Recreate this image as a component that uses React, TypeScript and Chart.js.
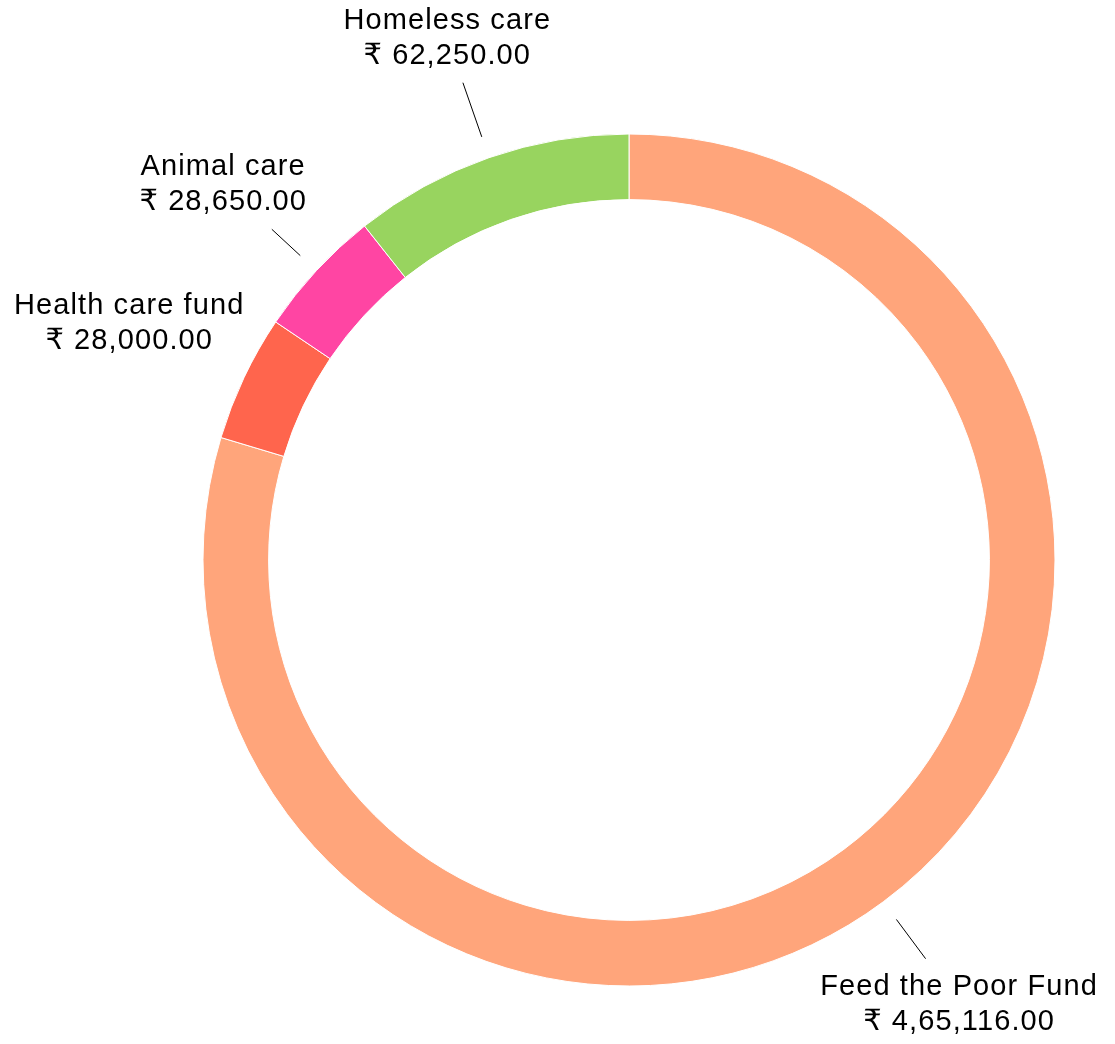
import React, { useEffect, useRef } from "react";
import { Chart, registerables } from "chart.js";

Chart.register(...registerables);

const categories = ["Feed the Poor Fund", "Health care fund", "Animal care", "Homeless care"];
const amounts = [465116, 28000, 28650, 62250];
const amountLabels = ["₹ 4,65,116.00", "₹ 28,000.00", "₹ 28,650.00", "₹ 62,250.00"];
const sliceColors = ["#FFA57B", "#FF654D", "#FF45A3", "#98D45F"];

const FONT = "29px 'Liberation Sans', Arial, Helvetica, 'DejaVu Sans', sans-serif";

const outsideLabels = {
  id: "outsideLabels",
  afterDraw(chart: any) {
    const ctx = chart.ctx;
    const meta = chart.getDatasetMeta(0);
    ctx.save();
    ctx.font = FONT;
    try { (ctx as any).letterSpacing = "1.1px"; } catch (e) {}
    ctx.textAlign = "center";
    ctx.textBaseline = "alphabetic";
    ctx.fillStyle = "#000";
    ctx.strokeStyle = "#000";
    ctx.lineWidth = 1;
    meta.data.forEach((arc: any, i: number) => {
      const p = arc.getProps(["x", "y", "startAngle", "endAngle", "outerRadius"], true);
      const mid = (p.startAngle + p.endAngle) / 2;
      const dx = Math.cos(mid);
      const dy = Math.sin(mid);
      const R = p.outerRadius;
      const bcx = p.x + (R + 127) * dx;
      const bcy = p.y + (R + 127) * dy;
      const l1 = categories[i];
      const l2 = amountLabels[i];
      const w = Math.max(ctx.measureText(l1).width, ctx.measureText(l2).width);
      const hw = w / 2 + 10;
      const hh = 35 + 10;
      let tx = -Infinity;
      let ty = -Infinity;
      if (Math.abs(dx) > 1e-6) {
        const a = (bcx - hw - p.x) / dx;
        const b = (bcx + hw - p.x) / dx;
        tx = Math.min(a, b);
      }
      if (Math.abs(dy) > 1e-6) {
        const a = (bcy - hh - p.y) / dy;
        const b = (bcy + hh - p.y) / dy;
        ty = Math.min(a, b);
      }
      const tEnter = Math.max(tx, ty);
      const r0 = R + 22;
      if (tEnter > r0) {
        ctx.beginPath();
        ctx.moveTo(p.x + r0 * dx, p.y + r0 * dy);
        ctx.lineTo(p.x + tEnter * dx, p.y + tEnter * dy);
        ctx.stroke();
      }
      ctx.fillText(l1, bcx, bcy - 9);
      ctx.fillText(l2, bcx, bcy + 26);
    });
    ctx.restore();
  },
};

export default function App() {
  const ref = useRef<HTMLCanvasElement>(null);
  useEffect(() => {
    if (!ref.current) return;
    const chart = new Chart(ref.current, {
      type: "doughnut",
      data: {
        labels: categories,
        datasets: [
          {
            data: amounts,
            backgroundColor: sliceColors,
            borderColor: "#ffffff",
            borderWidth: 1,
            hoverOffset: 0,
          },
        ],
      },
      options: {
        responsive: false,
        animation: false,
        cutout: "84.6%",
        layout: { padding: { top: 133.5, bottom: 57.5, left: 202.5, right: 59.5 } },
        plugins: {
          legend: { display: false },
          tooltip: { enabled: false },
        },
      },
      plugins: [outsideLabels],
    });
    return () => chart.destroy();
  }, []);
  return (
    <div style={{ position: "absolute", left: 0, top: 0, width: 1115, height: 1044, background: "#fff" }}>
      <canvas ref={ref} width={1115} height={1044} style={{ display: "block", width: 1115, height: 1044 }} />
    </div>
  );
}
